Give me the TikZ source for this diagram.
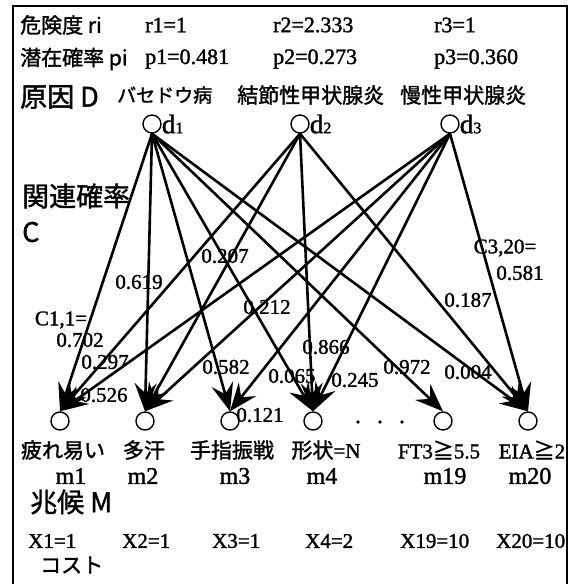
\documentclass[tikz,border=0pt]{standalone}
\usepackage{fontspec}
\setmainfont{Liberation Serif}[FakeBold=1.5]
\newfontfamily\jp{Noto Sans CJK JP}[FakeBold=1.5]
\usetikzlibrary{arrows.meta}
\begin{document}
\begin{tikzpicture}[x=1pt,y=-1pt,
  arr/.style={line width=2.6pt,-{Stealth[length=28pt,width=22pt,inset=10pt]}},
  cnode/.style={circle,draw,line width=1.4pt,minimum size=18pt,inner sep=0pt},
  lab/.style={font=\fontsize{21}{22}\selectfont, inner sep=0pt},
  hlab/.style={font=\fontsize{22}{23}\selectfont, inner sep=0pt, anchor=west},
  jpl/.style={font=\jp\fontsize{21}{22}\selectfont, inner sep=0pt},
  jpbig/.style={font=\jp\fontsize{27}{28}\selectfont, inner sep=0pt, anchor=west},
  mlab/.style={font=\fontsize{24}{24}\selectfont, inner sep=0pt},
]
\useasboundingbox (0,0) rectangle (573,584);
\draw[line width=1.5pt] (13,584) -- (13,6) -- (567,6) -- (567,584);

% header rows
\node[jpl,anchor=west] (hr) at (20,25) {危険度 ri};
\node[hlab] (r1) at (145,25) {r1=1};
\node[hlab] (r2) at (273,25) {r2=2.333};
\node[hlab] (r3) at (434,25) {r3=1};
\node[jpl,anchor=west] (hp) at (20,59) {潜在確率 pi};
\node[hlab] (p1) at (145,59) {p1=0.481};
\node[hlab] (p2) at (273,59) {p2=0.273};
\node[hlab] (p3) at (434,59) {p3=0.360};
\node[jpbig] (hd) at (20,97) {原因 D};
\node[jpl,anchor=west,font=\jp\fontsize{19}{20}\selectfont] (n1) at (117,95) {バセドウ病};
\node[jpl,anchor=west] (n2) at (237,95) {結節性甲状腺炎};
\node[jpl,anchor=west] (n3) at (400,95) {慢性甲状腺炎};

% cause nodes
\node[cnode] (d1) at (152,124) {};
\node[cnode] (d2) at (300,124) {};
\node[cnode] (d3) at (450,124) {};
\node[font=\fontsize{27}{27}\selectfont,inner sep=0pt,anchor=west] (ld1) at (d1.east) {d\fontsize{16}{16}\selectfont 1};
\node[font=\fontsize{27}{27}\selectfont,inner sep=0pt,anchor=west] (ld2) at (d2.east) {d\fontsize{16}{16}\selectfont 2};
\node[font=\fontsize{27}{27}\selectfont,inner sep=0pt,anchor=west] (ld3) at (d3.east) {d\fontsize{16}{16}\selectfont 3};

\node[jpbig] (hc) at (22,196) {関連確率};
\node[jpbig] (hc2) at (22,232) {C};

% symptom nodes
\node[cnode] (m1) at (60,421) {};
\node[cnode] (m2) at (145,421) {};
\node[cnode] (m3) at (230,421) {};
\node[cnode] (m4) at (313,421) {};
\node[cnode] (m19) at (443,421) {};
\node[cnode] (m20) at (528,421) {};
\fill (358,422) circle (1.8) (380,422) circle (1.8) (402,422) circle (1.8);

% edges
\draw[arr] (d1.south) -- (m1.north);
\draw[arr] (d1.south) -- (m2.north);
\draw[arr] (d1.south) -- (m3.north);
\draw[arr] (d1.south) -- (m4.north);
\draw[arr] (d1.south) -- (m19.north);
\draw[arr] (d1.south) -- (m20.north);
\draw[arr] (d2.south) -- (m1.north);
\draw[arr] (d2.south) -- (m2.north);
\draw[arr] (d2.south) -- (m4.north);
\draw[arr] (d2.south) -- (m20.north);
\draw[arr] (d3.south) -- (m1.north);
\draw[arr] (d3.south) -- (m2.north);
\draw[arr] (d3.south) -- (m3.north);
\draw[arr] (d3.south) -- (m4.north);
\draw[arr] (d3.south) -- (m20.north);

% edge labels
\node[lab] (c11) at (61,320) {C1,1=};
\node[lab] (e11) at (80,340) {0.702};
\node[lab] (e21) at (105,362) {0.297};
\node[lab] (e31) at (104,395) {0.526};
\node[lab] (e12) at (139,282) {0.619};
\node[lab] (e22) at (225,256) {0.207};
\node[lab] (e32) at (267,307) {0.212};
\node[lab] (e13) at (226,367) {0.582};
\node[lab] (e33) at (260,415) {0.121};
\node[lab] (e14) at (292,376) {0.065};
\node[lab] (e24) at (326,347) {0.866};
\node[lab] (e34) at (355,380) {0.245};
\node[lab] (e119) at (407,367) {0.972};
\node[lab] (e120) at (468,372) {0.004};
\node[lab] (e220) at (468,300) {0.187};
\node[lab] (c320) at (505,248) {C3,20=};
\node[lab] (e320) at (520,273) {0.581};

% symptom labels
\node[jpl] (s1) at (63,450) {疲れ易い};
\node[jpl] (s2) at (144,450) {多汗};
\node[jpl] (s3) at (232,450) {手指振戦};
\node[lab] (s4) at (326,450) {{\jp 形状}=N};
\node[lab] (s19) at (439,450) {FT3{\jp ≧}5.5};
\node[lab] (s20) at (532,450) {EIA{\jp ≧}2};
\node[mlab] (lm1) at (71,476) {m1};
\node[mlab] (lm2) at (143,476) {m2};
\node[mlab] (lm3) at (235,476) {m3};
\node[mlab] (lm4) at (322,476) {m4};
\node[mlab] (lm19) at (445,476) {m19};
\node[mlab] (lm20) at (530,476) {m20};
\node[jpbig] (hm) at (30,502) {兆候 M};

% costs
\node[lab,anchor=west] (x1) at (28,541) {X1=1};
\node[lab,anchor=west] (x2) at (122,541) {X2=1};
\node[lab,anchor=west] (x3) at (212,541) {X3=1};
\node[lab,anchor=west] (x4) at (305,541) {X4=2};
\node[lab,anchor=west] (x19) at (400,541) {X19=10};
\node[lab,anchor=west] (x20) at (496,541) {X20=10};
\node[jpl,anchor=west] (cost) at (40,565) {コスト};
\end{tikzpicture}
\end{document}
